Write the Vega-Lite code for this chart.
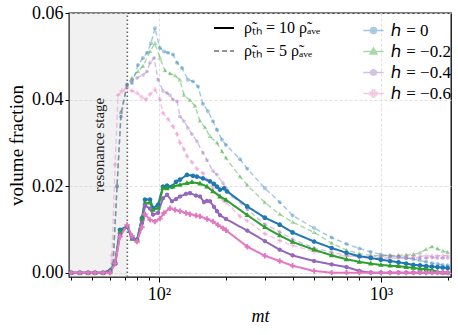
{
"$schema": "https://vega.github.io/schema/vega-lite/v6.json",
"autosize": {"type": "none"},
"padding": {"left": 69, "top": 13, "right": 7, "bottom": 58},
"width": 382,
"height": 264,
"config": {
 "font": "Liberation Serif",
 "view": {"stroke": "black", "strokeWidth": 1.3},
 "axis": {"labelFont": "Liberation Serif", "titleFont": "Liberation Serif", "labelColor": "black", "titleColor": "black", "tickColor": "black", "domain": false, "titleFontWeight": "normal"},
 "legend": {"symbolBaseStrokeColor": "black", "labelFont": "Liberation Serif", "labelColor": "black", "padding": 0}
},
"data": {"values": [
{"t":40.2,"v":0,"h":"0","s":"10"},{"t":44,"v":0,"h":"0","s":"10"},{"t":47.9,"v":0,"h":"0","s":"10"},{"t":51.5,"v":0,"h":"0","s":"10"},{"t":56,"v":0,"h":"0","s":"10"},{"t":60.2,"v":0.0005,"h":"0","s":"10"},{"t":63.4,"v":0.0022,"h":"0","s":"10"},{"t":66.7,"v":0.0099,"h":"0","s":"10"},{"t":71.8,"v":0.0107,"h":"0","s":"10"},{"t":75.6,"v":0.0082,"h":"0","s":"10"},{"t":79.6,"v":0.0076,"h":"0","s":"10"},{"t":83.8,"v":0.0126,"h":"0","s":"10"},{"t":86.5,"v":0.0169,"h":"0","s":"10"},{"t":91.1,"v":0.0169,"h":"0","s":"10"},{"t":94,"v":0.0149,"h":"0","s":"10"},{"t":99,"v":0.0157,"h":"0","s":"10"},{"t":104.2,"v":0.0199,"h":"0","s":"10"},{"t":108.7,"v":0.0201,"h":"0","s":"10"},{"t":114.4,"v":0.0199,"h":"0","s":"10"},{"t":119.3,"v":0.021,"h":"0","s":"10"},{"t":124.3,"v":0.0215,"h":"0","s":"10"},{"t":133.7,"v":0.0226,"h":"0","s":"10"},{"t":142.3,"v":0.0224,"h":"0","s":"10"},{"t":148.3,"v":0.0222,"h":"0","s":"10"},{"t":157.8,"v":0.0218,"h":"0","s":"10"},{"t":169.7,"v":0.0211,"h":"0","s":"10"},{"t":176.9,"v":0.0205,"h":"0","s":"10"},{"t":182.5,"v":0.0199,"h":"0","s":"10"},{"t":188.3,"v":0.0192,"h":"0","s":"10"},{"t":196.3,"v":0.0195,"h":"0","s":"10"},{"t":202.5,"v":0.0188,"h":"0","s":"10"},{"t":250,"v":0.0153,"h":"0","s":"10"},{"t":300,"v":0.0127,"h":"0","s":"10"},{"t":350,"v":0.0111,"h":"0","s":"10"},{"t":400,"v":0.0093,"h":"0","s":"10"},{"t":500,"v":0.0072,"h":"0","s":"10"},{"t":600,"v":0.0057,"h":"0","s":"10"},{"t":700,"v":0.0046,"h":"0","s":"10"},{"t":800,"v":0.0038,"h":"0","s":"10"},{"t":900,"v":0.0034,"h":"0","s":"10"},{"t":1000,"v":0.003,"h":"0","s":"10"},{"t":1100,"v":0.0027,"h":"0","s":"10"},{"t":1200,"v":0.0024,"h":"0","s":"10"},{"t":1300,"v":0.0021,"h":"0","s":"10"},{"t":1400,"v":0.0018,"h":"0","s":"10"},{"t":1500,"v":0.0017,"h":"0","s":"10"},{"t":1600,"v":0.0015,"h":"0","s":"10"},{"t":1700,"v":0.0014,"h":"0","s":"10"},{"t":1800,"v":0.0013,"h":"0","s":"10"},{"t":1900,"v":0.0012,"h":"0","s":"10"},{"t":2000,"v":0.0011,"h":"0","s":"10"},

{"t":40.2,"v":0,"h":"-0.2","s":"10"},{"t":44,"v":0,"h":"-0.2","s":"10"},{"t":47.9,"v":0,"h":"-0.2","s":"10"},{"t":51.5,"v":0,"h":"-0.2","s":"10"},{"t":56,"v":0,"h":"-0.2","s":"10"},{"t":60.2,"v":0.0005,"h":"-0.2","s":"10"},{"t":63.4,"v":0.0022,"h":"-0.2","s":"10"},{"t":66.7,"v":0.0095,"h":"-0.2","s":"10"},{"t":71.8,"v":0.0107,"h":"-0.2","s":"10"},{"t":75.6,"v":0.0078,"h":"-0.2","s":"10"},{"t":79.6,"v":0.0074,"h":"-0.2","s":"10"},{"t":83.8,"v":0.0125,"h":"-0.2","s":"10"},{"t":86.5,"v":0.016,"h":"-0.2","s":"10"},{"t":91.1,"v":0.0162,"h":"-0.2","s":"10"},{"t":94,"v":0.0145,"h":"-0.2","s":"10"},{"t":99,"v":0.015,"h":"-0.2","s":"10"},{"t":104.2,"v":0.0196,"h":"-0.2","s":"10"},{"t":108.7,"v":0.0195,"h":"-0.2","s":"10"},{"t":115.6,"v":0.0199,"h":"-0.2","s":"10"},{"t":124.3,"v":0.0203,"h":"-0.2","s":"10"},{"t":133.7,"v":0.0207,"h":"-0.2","s":"10"},{"t":140.8,"v":0.0209,"h":"-0.2","s":"10"},{"t":153,"v":0.0206,"h":"-0.2","s":"10"},{"t":164.5,"v":0.0199,"h":"-0.2","s":"10"},{"t":175,"v":0.0188,"h":"-0.2","s":"10"},{"t":188.3,"v":0.0176,"h":"-0.2","s":"10"},{"t":200.4,"v":0.0168,"h":"-0.2","s":"10"},{"t":250,"v":0.0133,"h":"-0.2","s":"10"},{"t":300,"v":0.0105,"h":"-0.2","s":"10"},{"t":350,"v":0.0086,"h":"-0.2","s":"10"},{"t":400,"v":0.0071,"h":"-0.2","s":"10"},{"t":500,"v":0.0053,"h":"-0.2","s":"10"},{"t":600,"v":0.004,"h":"-0.2","s":"10"},{"t":700,"v":0.0031,"h":"-0.2","s":"10"},{"t":800,"v":0.0025,"h":"-0.2","s":"10"},{"t":900,"v":0.0021,"h":"-0.2","s":"10"},{"t":1000,"v":0.0018,"h":"-0.2","s":"10"},{"t":1100,"v":0.0016,"h":"-0.2","s":"10"},{"t":1200,"v":0.0015,"h":"-0.2","s":"10"},{"t":1300,"v":0.0013,"h":"-0.2","s":"10"},{"t":1400,"v":0.0011,"h":"-0.2","s":"10"},{"t":1500,"v":0.0009,"h":"-0.2","s":"10"},{"t":1600,"v":0.0008,"h":"-0.2","s":"10"},{"t":1700,"v":0.0006,"h":"-0.2","s":"10"},{"t":1800,"v":0.0002,"h":"-0.2","s":"10"},{"t":1900,"v":0,"h":"-0.2","s":"10"},{"t":2000,"v":0,"h":"-0.2","s":"10"},

{"t":40.2,"v":0,"h":"-0.4","s":"10"},{"t":44,"v":0,"h":"-0.4","s":"10"},{"t":47.9,"v":0,"h":"-0.4","s":"10"},{"t":51.5,"v":0,"h":"-0.4","s":"10"},{"t":56,"v":0,"h":"-0.4","s":"10"},{"t":60.2,"v":0.0003,"h":"-0.4","s":"10"},{"t":63.4,"v":0.002,"h":"-0.4","s":"10"},{"t":66.7,"v":0.0088,"h":"-0.4","s":"10"},{"t":71.8,"v":0.0107,"h":"-0.4","s":"10"},{"t":75.6,"v":0.008,"h":"-0.4","s":"10"},{"t":79.6,"v":0.0074,"h":"-0.4","s":"10"},{"t":83.8,"v":0.0115,"h":"-0.4","s":"10"},{"t":86.5,"v":0.0155,"h":"-0.4","s":"10"},{"t":91.1,"v":0.0148,"h":"-0.4","s":"10"},{"t":94,"v":0.0134,"h":"-0.4","s":"10"},{"t":99,"v":0.0138,"h":"-0.4","s":"10"},{"t":104.2,"v":0.0172,"h":"-0.4","s":"10"},{"t":108.7,"v":0.018,"h":"-0.4","s":"10"},{"t":114.4,"v":0.0165,"h":"-0.4","s":"10"},{"t":119.3,"v":0.017,"h":"-0.4","s":"10"},{"t":124.3,"v":0.0176,"h":"-0.4","s":"10"},{"t":132.3,"v":0.0182,"h":"-0.4","s":"10"},{"t":137.9,"v":0.0184,"h":"-0.4","s":"10"},{"t":146.8,"v":0.0178,"h":"-0.4","s":"10"},{"t":153,"v":0.0176,"h":"-0.4","s":"10"},{"t":159.5,"v":0.0163,"h":"-0.4","s":"10"},{"t":164.5,"v":0.0166,"h":"-0.4","s":"10"},{"t":169.7,"v":0.0165,"h":"-0.4","s":"10"},{"t":176.9,"v":0.0152,"h":"-0.4","s":"10"},{"t":182.5,"v":0.0142,"h":"-0.4","s":"10"},{"t":188.3,"v":0.0133,"h":"-0.4","s":"10"},{"t":200.4,"v":0.0124,"h":"-0.4","s":"10"},{"t":250,"v":0.0097,"h":"-0.4","s":"10"},{"t":300,"v":0.0073,"h":"-0.4","s":"10"},{"t":350,"v":0.0053,"h":"-0.4","s":"10"},{"t":400,"v":0.004,"h":"-0.4","s":"10"},{"t":500,"v":0.0027,"h":"-0.4","s":"10"},{"t":600,"v":0.0019,"h":"-0.4","s":"10"},{"t":700,"v":0.0013,"h":"-0.4","s":"10"},{"t":800,"v":0.0004,"h":"-0.4","s":"10"},{"t":900,"v":0,"h":"-0.4","s":"10"},{"t":1000,"v":0,"h":"-0.4","s":"10"},{"t":1100,"v":0,"h":"-0.4","s":"10"},{"t":1200,"v":0,"h":"-0.4","s":"10"},{"t":1300,"v":0,"h":"-0.4","s":"10"},{"t":1400,"v":0,"h":"-0.4","s":"10"},{"t":1500,"v":0,"h":"-0.4","s":"10"},{"t":1600,"v":0,"h":"-0.4","s":"10"},{"t":1700,"v":0,"h":"-0.4","s":"10"},{"t":1800,"v":0,"h":"-0.4","s":"10"},{"t":1900,"v":0,"h":"-0.4","s":"10"},{"t":2000,"v":0,"h":"-0.4","s":"10"},

{"t":40.2,"v":0,"h":"-0.6","s":"10"},{"t":44,"v":0,"h":"-0.6","s":"10"},{"t":47.9,"v":0,"h":"-0.6","s":"10"},{"t":51.5,"v":0,"h":"-0.6","s":"10"},{"t":56,"v":0,"h":"-0.6","s":"10"},{"t":60.2,"v":0,"h":"-0.6","s":"10"},{"t":63.4,"v":0.0022,"h":"-0.6","s":"10"},{"t":66.7,"v":0.0083,"h":"-0.6","s":"10"},{"t":71.8,"v":0.011,"h":"-0.6","s":"10"},{"t":75.6,"v":0.0085,"h":"-0.6","s":"10"},{"t":79.6,"v":0.0072,"h":"-0.6","s":"10"},{"t":83.8,"v":0.0105,"h":"-0.6","s":"10"},{"t":86.5,"v":0.0135,"h":"-0.6","s":"10"},{"t":91.1,"v":0.0122,"h":"-0.6","s":"10"},{"t":95.9,"v":0.0118,"h":"-0.6","s":"10"},{"t":101,"v":0.0125,"h":"-0.6","s":"10"},{"t":105.3,"v":0.0138,"h":"-0.6","s":"10"},{"t":112.1,"v":0.0149,"h":"-0.6","s":"10"},{"t":118.1,"v":0.0145,"h":"-0.6","s":"10"},{"t":124.3,"v":0.0142,"h":"-0.6","s":"10"},{"t":132.3,"v":0.0138,"h":"-0.6","s":"10"},{"t":137.9,"v":0.0135,"h":"-0.6","s":"10"},{"t":146.8,"v":0.0132,"h":"-0.6","s":"10"},{"t":153,"v":0.013,"h":"-0.6","s":"10"},{"t":164.5,"v":0.0124,"h":"-0.6","s":"10"},{"t":175.1,"v":0.0118,"h":"-0.6","s":"10"},{"t":184.4,"v":0.011,"h":"-0.6","s":"10"},{"t":194.1,"v":0.0103,"h":"-0.6","s":"10"},{"t":200.4,"v":0.0098,"h":"-0.6","s":"10"},{"t":250,"v":0.006,"h":"-0.6","s":"10"},{"t":300,"v":0.0039,"h":"-0.6","s":"10"},{"t":350,"v":0.0027,"h":"-0.6","s":"10"},{"t":400,"v":0.0016,"h":"-0.6","s":"10"},{"t":500,"v":0.0004,"h":"-0.6","s":"10"},{"t":600,"v":0,"h":"-0.6","s":"10"},{"t":700,"v":0,"h":"-0.6","s":"10"},{"t":800,"v":0,"h":"-0.6","s":"10"},{"t":900,"v":0,"h":"-0.6","s":"10"},{"t":1000,"v":0,"h":"-0.6","s":"10"},{"t":1100,"v":0,"h":"-0.6","s":"10"},{"t":1200,"v":0,"h":"-0.6","s":"10"},{"t":1300,"v":0,"h":"-0.6","s":"10"},{"t":1400,"v":0,"h":"-0.6","s":"10"},{"t":1500,"v":0,"h":"-0.6","s":"10"},{"t":1600,"v":0,"h":"-0.6","s":"10"},{"t":1700,"v":0,"h":"-0.6","s":"10"},{"t":1800,"v":0,"h":"-0.6","s":"10"},{"t":1900,"v":0,"h":"-0.6","s":"10"},{"t":2000,"v":0,"h":"-0.6","s":"10"},

{"t":40.2,"v":0,"h":"0","s":"5"},{"t":44,"v":0,"h":"0","s":"5"},{"t":47.9,"v":0,"h":"0","s":"5"},{"t":51.5,"v":0,"h":"0","s":"5"},{"t":56,"v":0,"h":"0","s":"5"},{"t":60.2,"v":0,"h":"0","s":"5"},{"t":62.1,"v":0.002,"h":"0","s":"5"},{"t":64.7,"v":0.02,"h":"0","s":"5"},{"t":67.4,"v":0.036,"h":"0","s":"5"},{"t":71.8,"v":0.0434,"h":"0","s":"5"},{"t":75.6,"v":0.0438,"h":"0","s":"5"},{"t":80.4,"v":0.048,"h":"0","s":"5"},{"t":84.7,"v":0.0496,"h":"0","s":"5"},{"t":88.3,"v":0.0508,"h":"0","s":"5"},{"t":92,"v":0.053,"h":"0","s":"5"},{"t":95.9,"v":0.0565,"h":"0","s":"5"},{"t":101,"v":0.0519,"h":"0","s":"5"},{"t":105.3,"v":0.0511,"h":"0","s":"5"},{"t":109.8,"v":0.0508,"h":"0","s":"5"},{"t":115.6,"v":0.0504,"h":"0","s":"5"},{"t":120.6,"v":0.0485,"h":"0","s":"5"},{"t":127,"v":0.0473,"h":"0","s":"5"},{"t":135.1,"v":0.0446,"h":"0","s":"5"},{"t":142.3,"v":0.0442,"h":"0","s":"5"},{"t":149.9,"v":0.043,"h":"0","s":"5"},{"t":157.8,"v":0.039,"h":"0","s":"5"},{"t":166.2,"v":0.0373,"h":"0","s":"5"},{"t":175.1,"v":0.035,"h":"0","s":"5"},{"t":182.5,"v":0.033,"h":"0","s":"5"},{"t":192.2,"v":0.0307,"h":"0","s":"5"},{"t":200.4,"v":0.0295,"h":"0","s":"5"},{"t":231.7,"v":0.0262,"h":"0","s":"5"},{"t":250,"v":0.024,"h":"0","s":"5"},{"t":300,"v":0.0195,"h":"0","s":"5"},{"t":350,"v":0.0163,"h":"0","s":"5"},{"t":400,"v":0.0132,"h":"0","s":"5"},{"t":500,"v":0.0103,"h":"0","s":"5"},{"t":600,"v":0.0081,"h":"0","s":"5"},{"t":700,"v":0.0066,"h":"0","s":"5"},{"t":800,"v":0.0056,"h":"0","s":"5"},{"t":900,"v":0.0048,"h":"0","s":"5"},{"t":1000,"v":0.0042,"h":"0","s":"5"},{"t":1100,"v":0.0039,"h":"0","s":"5"},{"t":1200,"v":0.0037,"h":"0","s":"5"},{"t":1300,"v":0.0034,"h":"0","s":"5"},{"t":1400,"v":0.0031,"h":"0","s":"5"},{"t":1500,"v":0.0028,"h":"0","s":"5"},{"t":1600,"v":0.0025,"h":"0","s":"5"},{"t":1700,"v":0.0022,"h":"0","s":"5"},{"t":1800,"v":0.002,"h":"0","s":"5"},{"t":1900,"v":0.0018,"h":"0","s":"5"},{"t":2000,"v":0.0017,"h":"0","s":"5"},

{"t":40.2,"v":0,"h":"-0.2","s":"5"},{"t":44,"v":0,"h":"-0.2","s":"5"},{"t":47.9,"v":0,"h":"-0.2","s":"5"},{"t":51.5,"v":0,"h":"-0.2","s":"5"},{"t":56,"v":0,"h":"-0.2","s":"5"},{"t":60.2,"v":0,"h":"-0.2","s":"5"},{"t":62.1,"v":0.002,"h":"-0.2","s":"5"},{"t":64.7,"v":0.02,"h":"-0.2","s":"5"},{"t":67.4,"v":0.037,"h":"-0.2","s":"5"},{"t":71.8,"v":0.0434,"h":"-0.2","s":"5"},{"t":75.6,"v":0.045,"h":"-0.2","s":"5"},{"t":80.4,"v":0.0465,"h":"-0.2","s":"5"},{"t":84.7,"v":0.0477,"h":"-0.2","s":"5"},{"t":91.1,"v":0.0511,"h":"-0.2","s":"5"},{"t":95.9,"v":0.053,"h":"-0.2","s":"5"},{"t":101,"v":0.0496,"h":"-0.2","s":"5"},{"t":106.4,"v":0.0467,"h":"-0.2","s":"5"},{"t":112.1,"v":0.046,"h":"-0.2","s":"5"},{"t":118.1,"v":0.0455,"h":"-0.2","s":"5"},{"t":124.3,"v":0.0445,"h":"-0.2","s":"5"},{"t":129.6,"v":0.041,"h":"-0.2","s":"5"},{"t":137.9,"v":0.0398,"h":"-0.2","s":"5"},{"t":145.3,"v":0.0385,"h":"-0.2","s":"5"},{"t":153,"v":0.035,"h":"-0.2","s":"5"},{"t":161.2,"v":0.0335,"h":"-0.2","s":"5"},{"t":169.7,"v":0.0315,"h":"-0.2","s":"5"},{"t":182.5,"v":0.03,"h":"-0.2","s":"5"},{"t":192.2,"v":0.028,"h":"-0.2","s":"5"},{"t":200.4,"v":0.0265,"h":"-0.2","s":"5"},{"t":231.7,"v":0.0222,"h":"-0.2","s":"5"},{"t":250,"v":0.0202,"h":"-0.2","s":"5"},{"t":300,"v":0.0162,"h":"-0.2","s":"5"},{"t":350,"v":0.0135,"h":"-0.2","s":"5"},{"t":400,"v":0.0117,"h":"-0.2","s":"5"},{"t":500,"v":0.0093,"h":"-0.2","s":"5"},{"t":600,"v":0.0068,"h":"-0.2","s":"5"},{"t":700,"v":0.0052,"h":"-0.2","s":"5"},{"t":800,"v":0.0044,"h":"-0.2","s":"5"},{"t":900,"v":0.004,"h":"-0.2","s":"5"},{"t":1000,"v":0.0039,"h":"-0.2","s":"5"},{"t":1100,"v":0.0039,"h":"-0.2","s":"5"},{"t":1200,"v":0.004,"h":"-0.2","s":"5"},{"t":1300,"v":0.0041,"h":"-0.2","s":"5"},{"t":1400,"v":0.0042,"h":"-0.2","s":"5"},{"t":1500,"v":0.0046,"h":"-0.2","s":"5"},{"t":1600,"v":0.0054,"h":"-0.2","s":"5"},{"t":1700,"v":0.006,"h":"-0.2","s":"5"},{"t":1800,"v":0.0055,"h":"-0.2","s":"5"},{"t":1900,"v":0.005,"h":"-0.2","s":"5"},{"t":2000,"v":0.0047,"h":"-0.2","s":"5"},

{"t":40.2,"v":0,"h":"-0.4","s":"5"},{"t":44,"v":0,"h":"-0.4","s":"5"},{"t":47.9,"v":0,"h":"-0.4","s":"5"},{"t":51.5,"v":0,"h":"-0.4","s":"5"},{"t":56,"v":0,"h":"-0.4","s":"5"},{"t":60.2,"v":0,"h":"-0.4","s":"5"},{"t":62.1,"v":0.002,"h":"-0.4","s":"5"},{"t":64.7,"v":0.02,"h":"-0.4","s":"5"},{"t":67.4,"v":0.037,"h":"-0.4","s":"5"},{"t":71.8,"v":0.0434,"h":"-0.4","s":"5"},{"t":75.6,"v":0.0445,"h":"-0.4","s":"5"},{"t":79.6,"v":0.045,"h":"-0.4","s":"5"},{"t":84.7,"v":0.0457,"h":"-0.4","s":"5"},{"t":88.3,"v":0.0465,"h":"-0.4","s":"5"},{"t":91.1,"v":0.0485,"h":"-0.4","s":"5"},{"t":95,"v":0.0496,"h":"-0.4","s":"5"},{"t":99,"v":0.0446,"h":"-0.4","s":"5"},{"t":104.2,"v":0.042,"h":"-0.4","s":"5"},{"t":108.7,"v":0.0415,"h":"-0.4","s":"5"},{"t":112.1,"v":0.041,"h":"-0.4","s":"5"},{"t":115.6,"v":0.04,"h":"-0.4","s":"5"},{"t":120.6,"v":0.0396,"h":"-0.4","s":"5"},{"t":124.3,"v":0.0361,"h":"-0.4","s":"5"},{"t":129.6,"v":0.035,"h":"-0.4","s":"5"},{"t":135.1,"v":0.0334,"h":"-0.4","s":"5"},{"t":140.8,"v":0.032,"h":"-0.4","s":"5"},{"t":148.3,"v":0.0303,"h":"-0.4","s":"5"},{"t":157.8,"v":0.0277,"h":"-0.4","s":"5"},{"t":164.5,"v":0.026,"h":"-0.4","s":"5"},{"t":175,"v":0.0235,"h":"-0.4","s":"5"},{"t":182.5,"v":0.0226,"h":"-0.4","s":"5"},{"t":194.1,"v":0.0207,"h":"-0.4","s":"5"},{"t":200.4,"v":0.0195,"h":"-0.4","s":"5"},{"t":215.4,"v":0.0176,"h":"-0.4","s":"5"},{"t":250,"v":0.0146,"h":"-0.4","s":"5"},{"t":300,"v":0.0112,"h":"-0.4","s":"5"},{"t":350,"v":0.0094,"h":"-0.4","s":"5"},{"t":400,"v":0.0077,"h":"-0.4","s":"5"},{"t":500,"v":0.0057,"h":"-0.4","s":"5"},{"t":600,"v":0.0047,"h":"-0.4","s":"5"},{"t":700,"v":0.004,"h":"-0.4","s":"5"},{"t":800,"v":0.0037,"h":"-0.4","s":"5"},{"t":900,"v":0.0035,"h":"-0.4","s":"5"},{"t":1000,"v":0.0034,"h":"-0.4","s":"5"},{"t":1100,"v":0.0034,"h":"-0.4","s":"5"},{"t":1200,"v":0.0034,"h":"-0.4","s":"5"},{"t":1300,"v":0.0033,"h":"-0.4","s":"5"},{"t":1400,"v":0.0034,"h":"-0.4","s":"5"},{"t":1500,"v":0.0034,"h":"-0.4","s":"5"},{"t":1600,"v":0.0034,"h":"-0.4","s":"5"},{"t":1700,"v":0.0035,"h":"-0.4","s":"5"},{"t":1800,"v":0.0034,"h":"-0.4","s":"5"},{"t":1900,"v":0.0034,"h":"-0.4","s":"5"},{"t":2000,"v":0.0034,"h":"-0.4","s":"5"},

{"t":40.2,"v":0,"h":"-0.6","s":"5"},{"t":44,"v":0,"h":"-0.6","s":"5"},{"t":47.9,"v":0,"h":"-0.6","s":"5"},{"t":51.5,"v":0,"h":"-0.6","s":"5"},{"t":56,"v":0,"h":"-0.6","s":"5"},{"t":60.2,"v":0,"h":"-0.6","s":"5"},{"t":61.4,"v":0.004,"h":"-0.6","s":"5"},{"t":63.4,"v":0.025,"h":"-0.6","s":"5"},{"t":65.4,"v":0.041,"h":"-0.6","s":"5"},{"t":68.1,"v":0.042,"h":"-0.6","s":"5"},{"t":71.8,"v":0.0427,"h":"-0.6","s":"5"},{"t":75.6,"v":0.042,"h":"-0.6","s":"5"},{"t":79.6,"v":0.0415,"h":"-0.6","s":"5"},{"t":83.8,"v":0.0405,"h":"-0.6","s":"5"},{"t":87.4,"v":0.04,"h":"-0.6","s":"5"},{"t":91.1,"v":0.0412,"h":"-0.6","s":"5"},{"t":95.9,"v":0.0423,"h":"-0.6","s":"5"},{"t":101,"v":0.04,"h":"-0.6","s":"5"},{"t":104.2,"v":0.0369,"h":"-0.6","s":"5"},{"t":109.8,"v":0.0355,"h":"-0.6","s":"5"},{"t":115.6,"v":0.0338,"h":"-0.6","s":"5"},{"t":120.6,"v":0.032,"h":"-0.6","s":"5"},{"t":124.3,"v":0.03,"h":"-0.6","s":"5"},{"t":129.6,"v":0.0285,"h":"-0.6","s":"5"},{"t":133.7,"v":0.0269,"h":"-0.6","s":"5"},{"t":140.8,"v":0.0255,"h":"-0.6","s":"5"},{"t":148.3,"v":0.024,"h":"-0.6","s":"5"},{"t":157.8,"v":0.023,"h":"-0.6","s":"5"},{"t":164.5,"v":0.0215,"h":"-0.6","s":"5"},{"t":175,"v":0.0195,"h":"-0.6","s":"5"},{"t":184.4,"v":0.018,"h":"-0.6","s":"5"},{"t":194.1,"v":0.0168,"h":"-0.6","s":"5"},{"t":200.4,"v":0.0163,"h":"-0.6","s":"5"},{"t":231.7,"v":0.013,"h":"-0.6","s":"5"},{"t":250,"v":0.012,"h":"-0.6","s":"5"},{"t":300,"v":0.009,"h":"-0.6","s":"5"},{"t":350,"v":0.0074,"h":"-0.6","s":"5"},{"t":400,"v":0.0063,"h":"-0.6","s":"5"},{"t":500,"v":0.0049,"h":"-0.6","s":"5"},{"t":600,"v":0.0041,"h":"-0.6","s":"5"},{"t":700,"v":0.0038,"h":"-0.6","s":"5"},{"t":800,"v":0.0038,"h":"-0.6","s":"5"},{"t":900,"v":0.0038,"h":"-0.6","s":"5"},{"t":1000,"v":0.0038,"h":"-0.6","s":"5"},{"t":1100,"v":0.0039,"h":"-0.6","s":"5"},{"t":1200,"v":0.0038,"h":"-0.6","s":"5"},{"t":1300,"v":0.0038,"h":"-0.6","s":"5"},{"t":1400,"v":0.0039,"h":"-0.6","s":"5"},{"t":1500,"v":0.0038,"h":"-0.6","s":"5"},{"t":1600,"v":0.0039,"h":"-0.6","s":"5"},{"t":1700,"v":0.0038,"h":"-0.6","s":"5"},{"t":1800,"v":0.0039,"h":"-0.6","s":"5"},{"t":1900,"v":0.0039,"h":"-0.6","s":"5"},{"t":2000,"v":0.0039,"h":"-0.6","s":"5"}
]},
"encoding": {
 "x": {"field": "t", "type": "quantitative",
   "scale": {"type": "log", "domain": [39.3, 2070], "nice": false},
   "axis": {"title": "mt", "titleFont": "Liberation Serif", "titleFontStyle": "italic", "titleFontSize": 18, "titlePadding": 4,
     "values": [40,50,60,70,80,90,100,200,300,400,500,600,700,800,900,1000,2000],
     "labelExpr": "datum.value == 100 ? '10²' : (datum.value == 1000 ? '10³' : '')",
     "labelFont": "Liberation Serif", "labelFontSize": 18, "labelOverlap": false, "labelFlush": false, "labelPadding": 3,
     "tickSize": {"condition": {"test": "datum.value == 100 || datum.value == 1000", "value": 5}, "value": 3},
     "grid": true,
     "gridOpacity": {"condition": {"test": "datum.value == 100 || datum.value == 1000", "value": 1}, "value": 0},
     "gridColor": "#d8d8d8", "gridDash": [3, 2], "gridWidth": 0.8}},
 "y": {"field": "v", "type": "quantitative",
   "scale": {"domain": [-0.001, 0.06], "nice": false, "zero": false},
   "axis": {"title": "volume fraction", "titleFont": "Liberation Serif", "titleFontSize": 19, "titlePadding": 5,
     "values": [0, 0.02, 0.04, 0.06], "format": ".2f", "labelFont": "Liberation Serif", "labelFontSize": 18, "labelPadding": 2,
     "tickSize": 4, "grid": true, "gridColor": "#d8d8d8", "gridDash": [3, 2], "gridWidth": 0.8}}
},
"layer": [
 {"data": {"values": [{"t": 39.3, "t2": 72, "v": -0.001, "v2": 0.06}]},
  "mark": {"type": "rect", "fill": "#d0d0d0", "opacity": 0.3},
  "encoding": {"x2": {"field": "t2"}, "y2": {"field": "v2"}}},
 {"data": {"values": [{"t": 53.7, "v": 0.0295, "label": "resonance stage"}]},
  "mark": {"type": "text", "angle": 270, "fontSize": 15, "color": "#222", "font": "Liberation Serif"},
  "encoding": {"text": {"field": "label"}}},
 {"data": {"values": [{"t": 72, "v": -0.001, "v2": 0.06}]},
  "mark": {"type": "rule", "color": "#666", "strokeDash": [1.5, 2.5], "strokeWidth": 1.6},
  "encoding": {"y2": {"field": "v2"}}},
 {"transform": [{"filter": "datum.s == '5'"}],
  "mark": {"type": "line", "strokeWidth": 1.4},
  "encoding": {
   "color": {"field": "h", "type": "nominal", "scale": {"range": ["#2ca02c","#9467bd","#e377c2","#1f77b4"]}, "legend": null},
   "strokeDash": {"field": "s", "type": "nominal", "scale": {"domain": ["10","5"], "range": [[1,0],[5,3]]},
     "legend": {"title": null, "orient": "none", "legendX": 144, "legendY": 4, "symbolType": "stroke", "symbolSize": 400, "symbolStrokeWidth": 2, "labelFont": "Liberation Serif", "labelFontSize": 16, "labelOffset": 9, "rowPadding": 4,
       "labelExpr": "'ρ̃ₜₕ = ' + datum.label + ' ρ̃ₐᵥₑ'"}},
   "opacity": {"field": "s", "type": "ordinal", "scale": {"domain": ["10","5"], "range": [1, 0.42]},
     "legend": {"title": null, "orient": "none", "legendX": 144, "legendY": 4, "symbolType": "stroke", "symbolSize": 400, "symbolStrokeWidth": 2, "labelFont": "Liberation Serif", "labelFontSize": 16, "labelOffset": 9, "rowPadding": 4,
       "labelExpr": "'ρ̃ₜₕ = ' + datum.label + ' ρ̃ₐᵥₑ'"}}
  }},
 {"transform": [{"filter": "datum.s == '5'"}],
  "mark": {"type": "point", "filled": true, "strokeWidth": 0, "opacity": 0.4, "size": 16},
  "encoding": {
   "color": {"field": "h", "type": "nominal", "legend": null},
   "shape": {"field": "h", "type": "nominal",
     "scale": {"domain": ["0","-0.2","-0.4","-0.6"], "range": [
       "M-3.4,0H3.4M1,0A1,1,0,1,1,-1,0A1,1,0,1,1,1,0ZM0.4,0A0.4,0.4,0,1,1,-0.4,0A0.4,0.4,0,1,1,0.4,0Z",
       "M-3.4,0H3.4M0,-1.25L1.15,0.8L-1.15,0.8ZM0,-0.5L0.46,0.32L-0.46,0.32Z",
       "M-3.4,0H3.4M0,-1L0.87,-0.5L0.87,0.5L0,1L-0.87,0.5L-0.87,-0.5ZM0,-0.4L0.35,-0.2L0.35,0.2L0,0.4L-0.35,0.2L-0.35,-0.2Z",
       "M-3.4,0H3.4M-0.4,-1.15H0.4V-0.4H1.15V0.4H0.4V1.15H-0.4V0.4H-1.15V-0.4H-0.4ZM-0.2,-0.2H0.2V0.2H-0.2Z"]},
     "legend": {"title": null, "orient": "none", "legendX": 296, "legendY": 9, "symbolSize": 36, "labelFont": "Liberation Serif", "labelFontSize": 17, "labelOffset": 9, "rowPadding": 3,
       "labelExpr": "'ℎ = ' + replace(datum.label, '-', '−')",
       "encode": {"symbols": {"strokeWidth": {"value": 2}, "opacity": {"value": 1}, "fillOpacity": {"value": 1}, "strokeOpacity": {"value": 1}}}}}
  }},
 {"transform": [{"filter": "datum.s == '10'"}],
  "mark": {"type": "line", "strokeWidth": 2},
  "encoding": {
   "color": {"field": "h", "type": "nominal", "legend": null},
   "strokeDash": {"field": "s", "type": "nominal"},
   "opacity": {"field": "s", "type": "ordinal"}
  }},
 {"transform": [{"filter": "datum.s == '10'"}],
  "mark": {"type": "point", "filled": true, "strokeWidth": 0, "opacity": 1, "size": 22},
  "encoding": {
   "fill": {"field": "h", "type": "nominal",
     "scale": {"domain": ["0","-0.2","-0.4","-0.6"], "range": ["#1f77b4","#2ca02c","#9467bd","#e377c2"]},
     "legend": {"title": null, "orient": "none", "legendX": 296, "legendY": 9, "symbolSize": 36, "labelFont": "Liberation Serif", "labelFontSize": 17, "labelOffset": 9, "rowPadding": 3,
       "labelExpr": "'ℎ = ' + replace(datum.label, '-', '−')",
       "encode": {"symbols": {"strokeWidth": {"value": 2}, "opacity": {"value": 1}, "fillOpacity": {"value": 1}, "strokeOpacity": {"value": 1}}}}},
   "stroke": {"field": "h", "type": "nominal",
     "scale": {"domain": ["0","-0.2","-0.4","-0.6"], "range": ["#1f77b4","#2ca02c","#9467bd","#e377c2"]},
     "legend": {"title": null, "orient": "none", "legendX": 296, "legendY": 9, "symbolSize": 36, "labelFont": "Liberation Serif", "labelFontSize": 17, "labelOffset": 9, "rowPadding": 3,
       "labelExpr": "'ℎ = ' + replace(datum.label, '-', '−')",
       "encode": {"symbols": {"strokeWidth": {"value": 2}, "opacity": {"value": 1}, "fillOpacity": {"value": 1}, "strokeOpacity": {"value": 1}}}}},
   "shape": {"field": "h", "type": "nominal",
     "legend": {"title": null, "orient": "none", "legendX": 296, "legendY": 9, "symbolSize": 36, "labelFont": "Liberation Serif", "labelFontSize": 17, "labelOffset": 9, "rowPadding": 3,
       "labelExpr": "'ℎ = ' + replace(datum.label, '-', '−')",
       "encode": {"symbols": {"strokeWidth": {"value": 2}, "opacity": {"value": 1}, "fillOpacity": {"value": 1}, "strokeOpacity": {"value": 1}}}}}
  }}
]
}
